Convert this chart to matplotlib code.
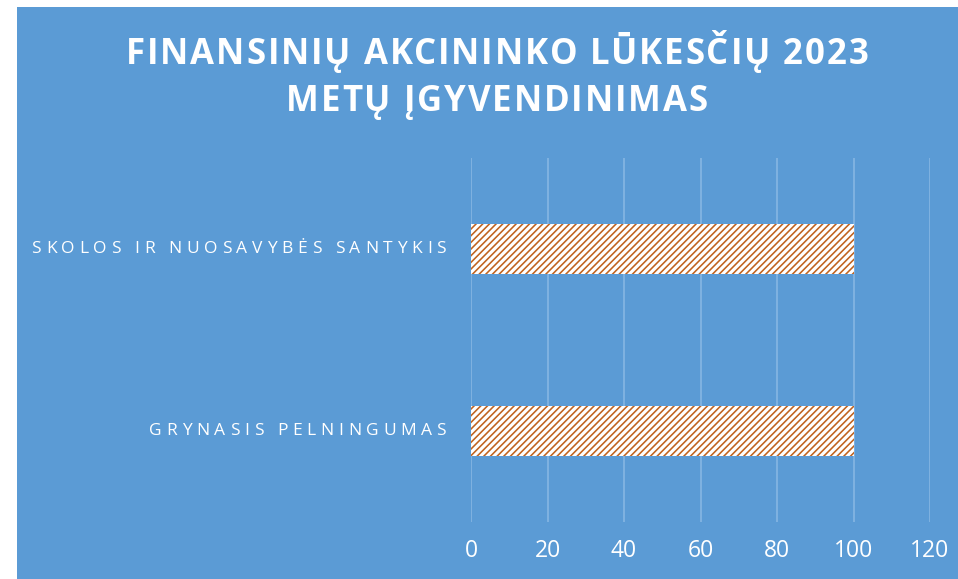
import matplotlib
matplotlib.use("Agg")
import matplotlib.pyplot as plt
from matplotlib.patches import Rectangle

categories = ["GRYNASIS PELNINGUMAS", "SKOLOS IR NUOSAVYBĖS SANTYKIS"]
values = [100, 100]
xticks = [0, 20, 40, 60, 80, 100, 120]
title_lines = ["FINANSINIŲ AKCININKO LŪKESČIŲ 2023", "METŲ ĮGYVENDINIMAS"]

BLUE = "#5B9BD5"
HATCH = "#C0621E"
FONTS = ["Open Sans", "DejaVu Sans"]

W, H = 958, 579

plt.rcParams["hatch.linewidth"] = 1.15
plt.rcParams["hatch.color"] = HATCH

fig = plt.figure(figsize=(W / 100, H / 100), dpi=100, facecolor="white")
fig.patches.append(Rectangle((17 / W, 0), 1 - 17 / W, 1 - 7 / H,
                             transform=fig.transFigure, facecolor=BLUE,
                             edgecolor="none", zorder=-5))
renderer = fig.canvas.get_renderer()


def text_width(s, **kw):
    t = fig.text(0, 0, s + "|", **kw)
    w1 = t.get_window_extent(renderer).width
    t.remove()
    t = fig.text(0, 0, "|", **kw)
    w2 = t.get_window_extent(renderer).width
    t.remove()
    return w1 - w2


def spaced_text(s, x_px, y_px, spacing, align="center", **kw):
    """Draw string s with extra letter spacing (px); y_px from top."""
    offs = [text_width(s[:i], **kw) + i * spacing for i in range(len(s))]
    total = text_width(s, **kw) + (len(s) - 1) * spacing
    if align == "center":
        x0 = x_px - total / 2
    elif align == "right":
        x0 = x_px - total
    else:
        x0 = x_px
    for ch, o in zip(s, offs):
        if ch == " ":
            continue
        fig.text((x0 + o) / W, 1 - y_px / H, ch, ha="left", va="center",
                 **kw)


ax = fig.add_axes([471 / W, 1 - 522 / H, 459 / W, 364 / H])
ax.set_zorder(2)
ax.set_facecolor("none")
ypos = list(range(len(categories)))
ax.barh(ypos, values, height=0.27, color="white", edgecolor=HATCH,
        hatch="/////", linewidth=0, zorder=3)
ax.set_xlim(0, 120)
ax.set_ylim(-0.5, len(categories) - 0.5)
ax.set_xticks(xticks)
ax.set_xticklabels([str(t) for t in xticks], color="white", fontsize=16.5,
                   family=FONTS)
ax.set_yticks(ypos)
ax.set_yticklabels([])
ax.tick_params(axis="x", length=0, pad=12)
ax.tick_params(axis="y", length=0)
ax.grid(axis="x", color="#86B6E3", linewidth=1.2, zorder=1)
for s in ax.spines.values():
    s.set_visible(False)

# category labels (letter-spaced), right-aligned left of the axis
label_kw = dict(color="white", fontsize=12.5, family=FONTS)
for yp, cat in zip(ypos, categories):
    ydisp = ax.transData.transform((0, yp))[1]
    spaced_text(cat, 446, H - ydisp, 4.65, align="right", **label_kw)

title_kw = dict(color="white", fontsize=25, fontweight="bold", family=FONTS,
                zorder=5)
spaced_text(title_lines[0], 497, 55, 1.9, **title_kw)
spaced_text(title_lines[1], 497, 102, 1.9, **title_kw)

fig.savefig("out.png", dpi=100, facecolor="white")
